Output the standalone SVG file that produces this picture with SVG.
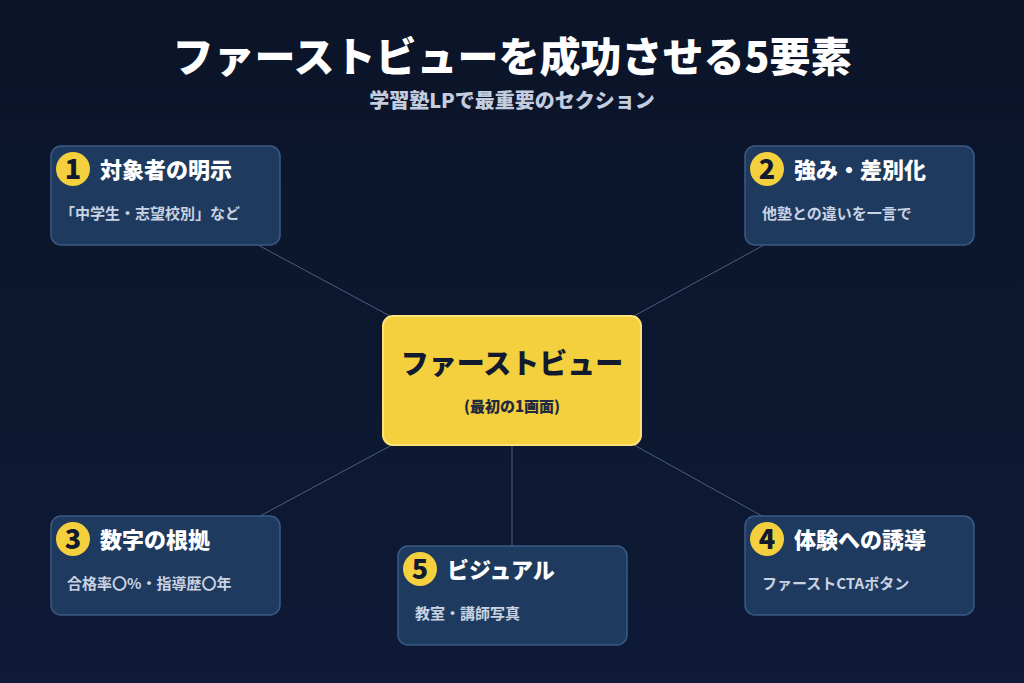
<svg xmlns="http://www.w3.org/2000/svg" width="1024" height="683" viewBox="0 0 1024 683">
<defs>
<linearGradient id="bg" x1="0" y1="0" x2="0" y2="1"><stop offset="0" stop-color="#0b1428"/><stop offset="1" stop-color="#0e1a36"/></linearGradient>
<style>
text{font-family:"Noto Sans CJK JP","Noto Sans",sans-serif;font-weight:900}
.box{fill:#1e3a5f;stroke:#3a5a85;stroke-width:1.5}
.num{fill:#f4cf3e}
.nt{fill:#111a2e;font-size:27px;text-anchor:middle}
.h{fill:#ffffff;font-size:22px}
.s{fill:#c9d3e2;font-size:15px;font-weight:700}
.ln{stroke:#4a5f80;stroke-width:1}
</style>
</defs>
<rect width="1024" height="683" fill="url(#bg)"/>
<text x="512" y="72" text-anchor="middle" font-size="41" fill="#fff">ファーストビューを成功させる5要素</text>
<text x="512" y="108" text-anchor="middle" font-size="20" fill="#c3cde0">学習塾LPで最重要のセクション</text>
<g id="connectors">
<line class="ln" x1="258" y1="245" x2="390" y2="316"/>
<line class="ln" x1="764" y1="245" x2="634" y2="316"/>
<line class="ln" x1="260" y1="516" x2="392" y2="445"/>
<line class="ln" x1="762" y1="516" x2="634" y2="445"/>
<line class="ln" x1="512" y1="445" x2="512" y2="546"/>
</g>
<g id="center">
<rect x="383" y="316" width="258" height="129" rx="10" fill="#f4cf3e" stroke="#fbe37a" stroke-width="2"/>
<text x="512" y="374" text-anchor="middle" font-size="28" fill="#111a2e">ファーストビュー</text>
<text x="512" y="412" text-anchor="middle" font-size="15" fill="#1e2a40">(最初の1画面)</text>
</g>
<g id="n1">
<rect class="box" x="51" y="146" width="229" height="99" rx="10"/>
<circle class="num" cx="73" cy="169" r="17"/><text class="nt" x="73" y="179">1</text>
<text class="h" x="100" y="178">対象者の明示</text>
<text class="s" x="60" y="219">「中学生・志望校別」など</text>
</g>
<g id="n2">
<rect class="box" x="745" y="146" width="229" height="99" rx="10"/>
<circle class="num" cx="767" cy="169" r="17"/><text class="nt" x="767" y="179">2</text>
<text class="h" x="794" y="178">強み・差別化</text>
<text class="s" x="762" y="219">他塾との違いを一言で</text>
</g>
<g id="n3">
<rect class="box" x="51" y="516" width="229" height="99" rx="10"/>
<circle class="num" cx="73" cy="539" r="17"/><text class="nt" x="73" y="549">3</text>
<text class="h" x="100" y="548">数字の根拠</text>
<text class="s" x="67" y="589">合格率〇%・指導歴〇年</text>
</g>
<g id="n4">
<rect class="box" x="745" y="516" width="229" height="99" rx="10"/>
<circle class="num" cx="767" cy="539" r="17"/><text class="nt" x="767" y="549">4</text>
<text class="h" x="794" y="548">体験への誘導</text>
<text class="s" x="762" y="589">ファーストCTAボタン</text>
</g>
<g id="n5">
<rect class="box" x="398" y="546" width="229" height="99" rx="10"/>
<circle class="num" cx="420" cy="569" r="17"/><text class="nt" x="420" y="579">5</text>
<text class="h" x="447" y="578">ビジュアル</text>
<text class="s" x="415" y="619">教室・講師写真</text>
</g>
</svg>
